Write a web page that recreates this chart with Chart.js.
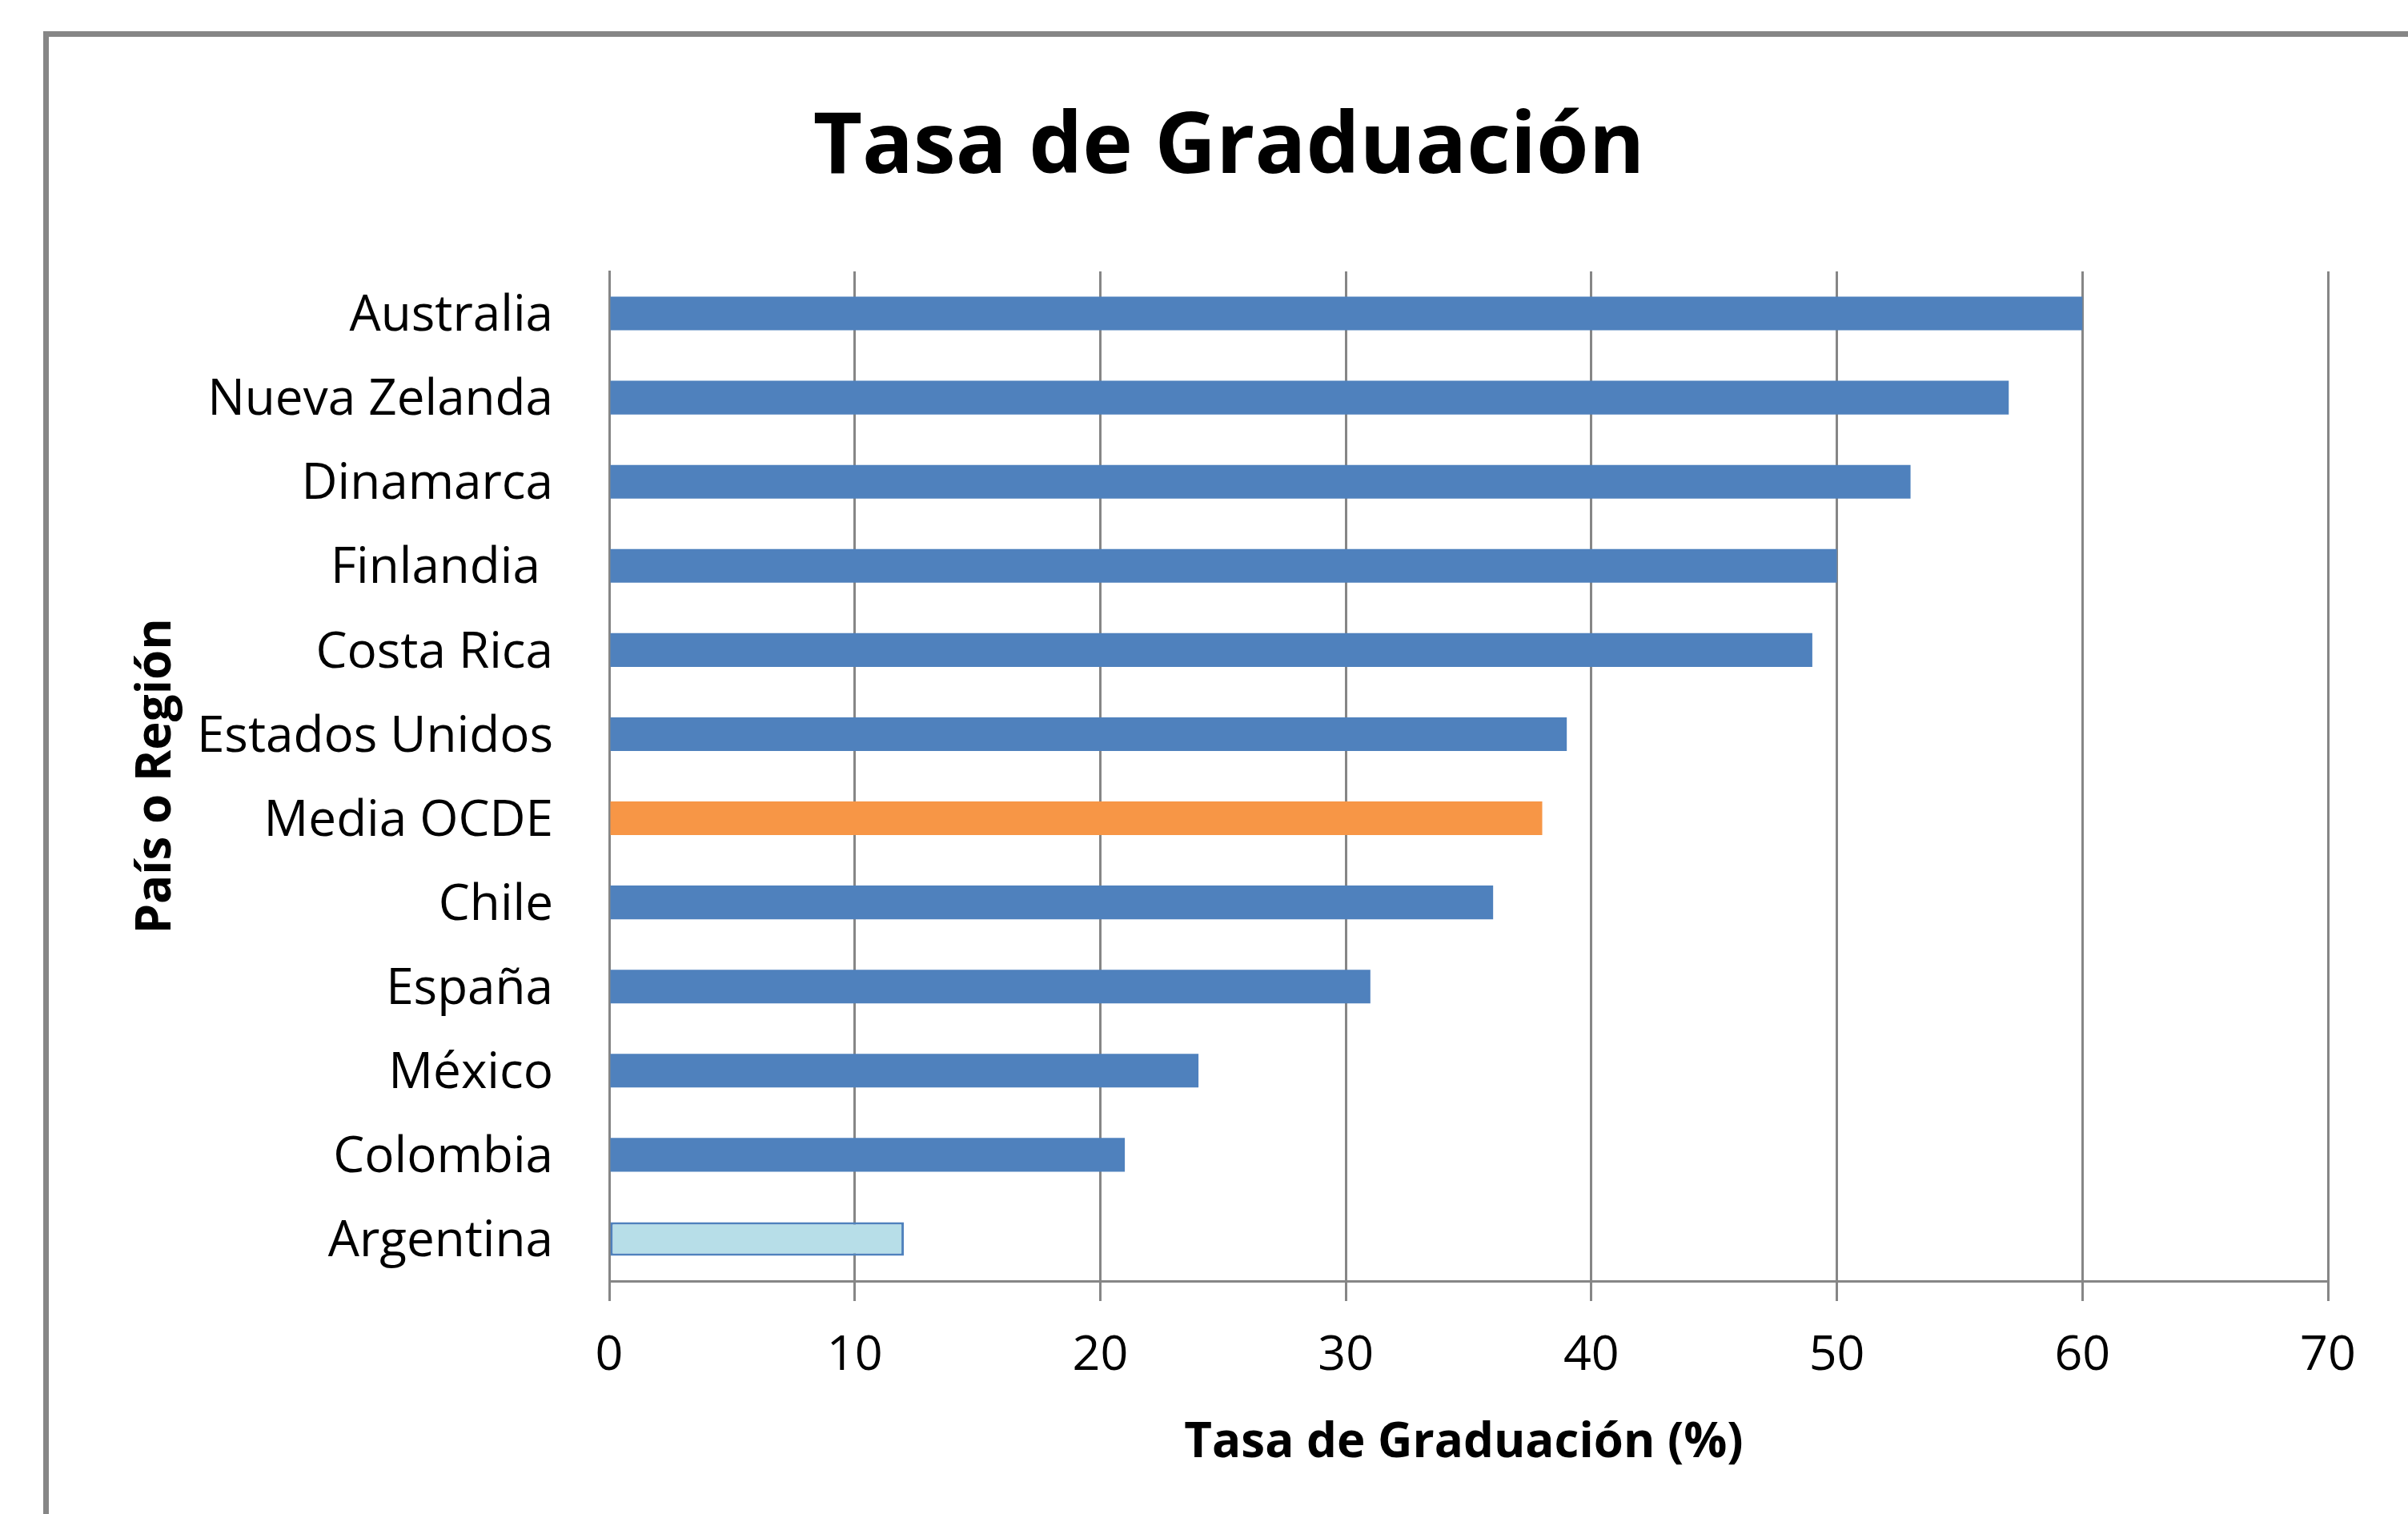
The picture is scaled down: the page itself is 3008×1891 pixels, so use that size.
<!DOCTYPE html>
<html>
<head>
<meta charset="utf-8">
<script src="https://cdn.jsdelivr.net/npm/chart.js@4.4.0/dist/chart.umd.min.js"></script>
<style>
html,body{margin:0;padding:0;background:#fff;}
#wrap{position:relative;width:3008px;height:1891px;}
</style>
</head>
<body>
<div id="wrap"><canvas id="c"></canvas></div>
<script>
// ---- data ----
const categories = ['Australia','Nueva Zelanda','Dinamarca','Finlandia ','Costa Rica','Estados Unidos','Media OCDE','Chile','España','México','Colombia','Argentina'];
const values = [60, 57, 53, 50, 49, 39, 38, 36, 31, 24, 21, 12];
const xTickValues = [0, 10, 20, 30, 40, 50, 60, 70];
const chartTitle = 'Tasa de Graduación';
const xAxisTitle = 'Tasa de Graduación (%)';
const yAxisTitle = 'País o Región';

// ---- styles ----
const BLUE = '#4F81BD';
const ORANGE = '#F79646';
const LIGHT = '#B7DEE8';
const GRID = '#868686';
const FONT = '"Open Sans", "Liberation Sans", sans-serif';

const frameAndTitles = {
  id: 'frameAndTitles',
  beforeDraw(chart) {
    const ctx = chart.ctx;
    ctx.save();
    ctx.fillStyle = '#ffffff';
    ctx.fillRect(0, 0, chart.width, chart.height);
    ctx.fillStyle = GRID;
    ctx.fillRect(54, 39, chart.width - 54, 7);
    ctx.fillRect(54, 39, 7, chart.height - 39);
    ctx.restore();
  },
  afterDraw(chart) {
    const ctx = chart.ctx;
    const a = chart.chartArea;
    ctx.save();
    ctx.fillStyle = '#000';
    ctx.textAlign = 'center';
    ctx.textBaseline = 'alphabetic';
    ctx.font = 'bold 106px ' + FONT;
    ctx.fillText(chartTitle, 1535, 216);
    ctx.font = 'bold 60px ' + FONT;
    ctx.fillText(xAxisTitle, (a.left + a.right) / 2 - 6, 1820);
    ctx.translate(213, (a.top + a.bottom) / 2);
    ctx.rotate(-Math.PI / 2);
    ctx.font = 'bold 60px ' + FONT;
    ctx.fillText(yAxisTitle, 0, 0);
    ctx.restore();
  }
};

function build() {
  new Chart(document.getElementById('c'), {
    type: 'bar',
    data: {
      labels: categories,
      datasets: [{
        data: values,
        backgroundColor: (c) => {
          const n = categories[c.dataIndex];
          return n === 'Media OCDE' ? ORANGE : (n === 'Argentina' ? LIGHT : BLUE);
        },
        borderColor: BLUE,
        borderWidth: (c) => categories[c.dataIndex] === 'Argentina' ? 3 : 0,
        borderSkipped: false,
        barPercentage: 0.4,
        categoryPercentage: 1.0
      }]
    },
    options: {
      indexAxis: 'y',
      responsive: true,
      maintainAspectRatio: false,
      animation: false,
      devicePixelRatio: 1,
      layout: { padding: { left: 0, right: 100, top: 339, bottom: 0 } },
      plugins: { legend: { display: false }, tooltip: { enabled: false }, title: { display: false } },
      scales: {
        x: {
          type: 'linear',
          min: 0,
          max: 70,
          afterBuildTicks: (s) => { s.ticks = xTickValues.map(v => ({ value: v })); },
          afterFit: (s) => { s.height = 291; },
          grid: { color: GRID, lineWidth: 3, tickLength: 25, tickColor: GRID, tickWidth: 3, drawTicks: true },
          border: { display: true, color: GRID, width: 3 },
          ticks: { color: '#000', font: { family: FONT, size: 61, lineHeight: 1 }, padding: 38, maxRotation: 0, autoSkip: false }
        },
        y: {
          afterFit: (s) => { s.width = 761; },
          grid: { display: false, drawTicks: false, tickLength: 0 },
          border: { display: true, color: GRID, width: 3 },
          ticks: { color: '#000', font: { family: FONT, size: 62, lineHeight: 1 }, padding: 70, labelOffset: 4, autoSkip: false }
        }
      }
    },
    plugins: [frameAndTitles]
  });
}

if (document.fonts && document.fonts.load) {
  Promise.all([
    document.fonts.load('62px "Open Sans"'),
    document.fonts.load('bold 100px "Open Sans"')
  ]).then(build, build);
} else {
  build();
}
</script>
</body>
</html>
